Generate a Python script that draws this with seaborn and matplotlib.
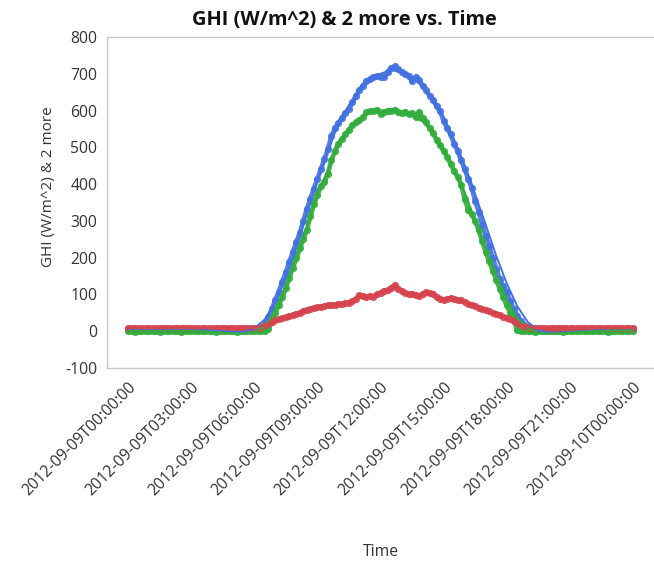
import numpy as np
import pandas as pd
import matplotlib
matplotlib.use("Agg")
import matplotlib.pyplot as plt
import seaborn as sns

# ---- data ----
# observation times in hours (10-minute steps over the day)
hours_obs = np.arange(145) / 6.0

ghi_obs = [
    5, 6, 5, 5, 6, 5, 5, 4, 5, 6, 5, 5,          # 0:00-1:50
    5, 5, 6, 5, 5, 4, 5, 5, 6, 5, 5, 5,          # 2:00-3:50
    5, 4, 5, 5, 5, 6, 5, 5, 5, 4, 5, 5,          # 4:00-5:50
    5, 6, 10, 20, 38, 60, 85, 108, 135, 160, 188, 215,   # 6:00-7:50
    242, 268, 300, 332, 360, 388, 415, 440, 468, 495, 530, 552,  # 8:00-9:50
    565, 580, 593, 605, 622, 640, 655, 668, 680, 685, 690, 693,  # 10:00-11:50
    692, 690, 705, 715, 720, 712, 705, 700, 695, 680, 690, 682,  # 12:00-13:50
    668, 655, 640, 628, 612, 598, 572, 552, 535, 510, 490, 465,  # 14:00-15:50
    440, 415, 390, 355, 325, 290, 260, 232, 200, 170, 142, 122,  # 16:00-17:50
    108, 82, 60, 42, 28, 18, 10, 7, 6, 5, 6, 5,                  # 18:00-19:50
    5, 5, 6, 5, 5, 5, 4, 5, 5, 6, 5, 5,                          # 20:00-21:50
    5, 5, 6, 5, 5, 4, 5, 5, 5, 6, 5, 5,                          # 22:00-23:50
    5,                                                            # 24:00
]

dni_obs = [
    0, 0, -1, 0, 0, 0, 1, 0, 0, -1, 0, 0,
    0, 0, 0, -1, 0, 0, 0, 0, 1, 0, 0, 0,
    0, -1, 0, 0, 0, 0, 0, -1, 0, 0, 0, 0,
    0, 0, 0, 0, 5, 25, 50, 72, 92, 118, 145, 172,
    198, 225, 250, 275, 312, 345, 370, 395, 405, 428, 465, 490,
    510, 522, 535, 548, 560, 568, 575, 582, 595, 598, 600, 602,
    590, 595, 600, 598, 602, 596, 593, 597, 590, 592, 582, 595,
    580, 568, 552, 538, 520, 505, 490, 475, 455, 435, 420, 398,
    360, 330, 318, 300, 275, 245, 215, 190, 165, 140, 115, 92,
    70, 50, 30, 2, 0, 0, 0, 0, -1, 0, 0, 0,
    0, 0, 0, 0, -1, 0, 0, 0, 0, 0, 0, 0,
    0, 0, 0, 0, 0, -1, 0, 0, 0, 0, 0, 0,
    0,
]

dhi_obs = [
    8, 8, 9, 8, 8, 8, 9, 8, 8, 8, 8, 9,
    8, 8, 8, 8, 9, 8, 8, 8, 8, 8, 9, 8,
    8, 8, 8, 9, 8, 8, 8, 8, 8, 9, 8, 8,
    8, 9, 12, 16, 20, 25, 30, 33, 36, 38, 42, 44,
    48, 50, 54, 57, 60, 63, 65, 67, 68, 70, 70, 72,
    73, 75, 76, 78, 82, 88, 98, 95, 92, 96, 93, 100,
    105, 110, 112, 118, 125, 115, 110, 105, 100, 102, 98, 95,
    102, 106, 104, 100, 92, 87, 86, 88, 90, 88, 86, 84,
    80, 75, 72, 68, 64, 60, 57, 54, 50, 47, 43, 40,
    36, 32, 27, 22, 18, 14, 12, 10, 8, 8, 9, 8,
    8, 8, 8, 9, 8, 8, 8, 8, 8, 9, 8, 8,
    8, 8, 9, 8, 8, 8, 8, 8, 9, 8, 8, 8,
    8,
]

# smooth fitted curves (30-minute steps)
hours_fit = np.arange(49) / 2.0
ghi_fit = [6, 6, 6, 6, 6, 5, 5, 4, 2, 0, -2, -2, 8, 32, 78, 145, 228, 320, 410, 490,
           565, 615, 655, 685, 700, 710, 705, 690, 665, 630, 582, 520, 450, 372, 290,
           205, 130, 68, 25, 2, -4, -4, -2, 0, 2, 4, 5, 6, 6]
dni_fit = [1, 1, 1, 1, 1, 1, 1, 0, -2, -4, -6, -6, -2, 14, 58, 122, 200, 285, 370, 440,
           505, 550, 578, 595, 600, 600, 595, 585, 570, 540, 497, 442, 378, 303, 225,
           150, 85, 35, 8, -4, -7, -6, -4, -2, 0, 1, 2, 2, 2]
dhi_fit = [8, 8, 8, 8, 8, 8, 8, 8, 8, 8, 8, 8, 9, 15, 28, 38, 47, 56, 64, 70,
           74, 80, 92, 97, 105, 115, 110, 102, 100, 98, 88, 88, 80, 68, 57,
           47, 36, 22, 12, 8, 8, 8, 8, 8, 8, 8, 8, 8, 8]

tick_hours = [0, 3, 6, 9, 12, 15, 18, 21, 24]
tick_labels = ["2012-09-09T00:00:00", "2012-09-09T03:00:00", "2012-09-09T06:00:00",
               "2012-09-09T09:00:00", "2012-09-09T12:00:00", "2012-09-09T15:00:00",
               "2012-09-09T18:00:00", "2012-09-09T21:00:00", "2012-09-10T00:00:00"]
y_ticks = [-100, 0, 100, 200, 300, 400, 500, 600, 700, 800]

colors = ["#4372e0", "#34ad3e", "#d6454f"]

# ---- plotting ----
sns.set_style("white")
plt.rcParams["font.family"] = ["Open Sans", "DejaVu Sans"]

fig = plt.figure(figsize=(6.54, 5.62), dpi=100)
ax = fig.add_axes([107 / 654, 1 - 368 / 562, 547 / 654, 331 / 562])

series_obs = [ghi_obs, dni_obs, dhi_obs]
series_fit = [ghi_fit, dni_fit, dhi_fit]
for obs, fit, c in zip(series_obs, series_fit, colors):
    sns.lineplot(x=hours_obs, y=obs, ax=ax, color=c, linewidth=3.4, alpha=0.9,
                 marker="o", markersize=5.2, markeredgewidth=0, zorder=2)
    sns.lineplot(x=hours_fit, y=fit, ax=ax, color=c, linewidth=1.4, zorder=3)

ax.set_xlim(-1.0, 25.0)
ax.set_ylim(-100, 800)
ax.set_xticks(tick_hours)
ax.set_xticklabels(tick_labels, rotation=45, ha="right", va="top",
                   rotation_mode="anchor")
ax.set_yticks(y_ticks)
ax.set_yticklabels([str(v) for v in y_ticks])

grey = "#c8c8c8"
for s in ["left", "top", "bottom"]:
    ax.spines[s].set_color(grey)
    ax.spines[s].set_linewidth(1.0)
ax.spines["right"].set_visible(False)
ax.tick_params(axis="both", direction="out", length=4.5, width=1, color=grey,
               labelcolor="#333333", labelsize=11.3, pad=2.5)
ax.tick_params(axis="x", pad=3.5)

fig.text(344 / 654, 1 - 20 / 562, "GHI (W/m^2) & 2 more vs. Time", fontsize=14.4,
         fontweight="bold", color="#111111", ha="center", va="center")
ax.set_ylabel("GHI (W/m^2) & 2 more", fontsize=11, color="#333333")
ax.set_xlabel("Time", fontsize=11.3, color="#333333")
ax.yaxis.set_label_coords((56 - 107) / 547, (368 - 187) / 331)
ax.xaxis.set_label_coords(0.5, (368 - 544) / 331)

fig.savefig("out.png", dpi=100)
